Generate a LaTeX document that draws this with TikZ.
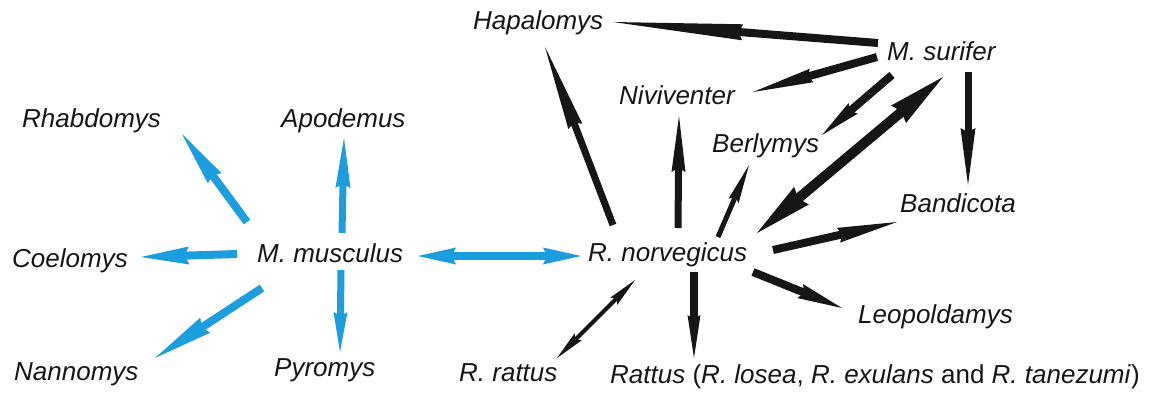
\documentclass[tikz,border=0pt]{standalone}
\usepackage{fontspec}
\setmainfont{Liberation Sans}
\usetikzlibrary{arrows.meta}
\definecolor{mblue}{RGB}{27,157,222}
\definecolor{ink}{RGB}{22,22,22}
\tikzset{
  lbl/.style={anchor=base west, inner sep=0pt, font=\fontsize{26}{30}\selectfont\itshape, text=ink},
  lblup/.style={anchor=base west, inner sep=0pt, font=\fontsize{26}{30}\selectfont, text=ink},
  bluearr/.style={color=mblue},
  blackarr/.style={color=ink},
  aone/.style n args={3}{line width=#1, -{Stealth[length=#2, width=#3, inset=4pt, line width=0pt]}},
  atwo/.style n args={3}{line width=#1, {Stealth[length=#2, width=#3, inset=4pt, line width=0pt]}-{Stealth[length=#2, width=#3, inset=4pt, line width=0pt]}},
}
\begin{document}
\begin{tikzpicture}[x=1pt,y=-1pt]
\useasboundingbox (0,0) rectangle (1149,392);
% labels
\node[lbl] (rhab) at (22,127) {Rhabdomys};
\node[lbl] (apod) at (281,127) {Apodemus};
\node[lbl] (coel) at (12,267) {Coelomys};
\node[lbl] (mmus) at (257,262) {M. musculus};
\node[lbl] (nann) at (14,380) {Nannomys};
\node[lbl] (pyro) at (274,376) {Pyromys};
\node[lbl] (hapa) at (473,29) {Hapalomys};
\node[lbl] (msur) at (887,60) {M. surifer};
\node[lbl] (nivi) at (619,104) {Niviventer};
\node[lbl] (berl) at (712,152) {Berlymys};
\node[lbl] (rnor) at (588,261) {R. norvegicus};
\node[lbl] (band) at (900,212) {Bandicota};
\node[lbl] (leop) at (858,323) {Leopoldamys};
\node[lbl] (ratt) at (459,381) {R. rattus};
\node[lblup] (rats) at (610,383) {\textit{Rattus} (\textit{R. losea}, \textit{R. exulans} and \textit{R. tanezumi})};
% arrow end points
\coordinate (mm-rh) at (247,222); \coordinate (rh-in) at (182,134);
\coordinate (mm-ap) at (342,233); \coordinate (ap-in) at (344,138);
\coordinate (mm-co) at (237,254); \coordinate (co-in) at (141,257);
\coordinate (mm-na) at (262,288); \coordinate (na-in) at (155,358);
\coordinate (mm-py) at (341,270); \coordinate (py-in) at (340,352);
\coordinate (mm-rn) at (418,256); \coordinate (rn-mm) at (581,256);
\coordinate (rn-ha) at (613,225); \coordinate (ha-rn) at (545,47);
\coordinate (rn-ni) at (678,228); \coordinate (ni-rn) at (679,116);
\coordinate (rn-be) at (718,237); \coordinate (be-rn) at (749,165);
\coordinate (rn-ms) at (757,233); \coordinate (ms-rn) at (943,77);
\coordinate (rn-ba) at (773,250); \coordinate (ba-rn) at (897,222);
\coordinate (rn-le) at (753,272); \coordinate (le-rn) at (842,308);
\coordinate (rn-rr) at (635,280); \coordinate (rr-rn) at (557,358);
\coordinate (rn-rs) at (694,272); \coordinate (rs-rn) at (694,358);
\coordinate (ms-ha) at (878,43); \coordinate (ha-ms) at (613,22);
\coordinate (ms-ni) at (877,57); \coordinate (ni-ms) at (753,92);
\coordinate (ms-be) at (892,75); \coordinate (be-ms) at (822,135);
\coordinate (ms-ba) at (968,72); \coordinate (ba-ms) at (968,185);
% blue connectors
\draw[bluearr, aone={8pt}{55pt}{17pt}] (mm-rh) -- (rh-in);
\draw[bluearr, aone={7pt}{50pt}{15pt}] (mm-ap) -- (ap-in);
\draw[bluearr, aone={8pt}{48pt}{18pt}] (mm-co) -- (co-in);
\draw[bluearr, aone={8pt}{60pt}{18pt}] (mm-na) -- (na-in);
\draw[bluearr, aone={7pt}{40pt}{14pt}] (mm-py) -- (py-in);
\draw[bluearr, atwo={8pt}{38pt}{17pt}] (mm-rn) -- (rn-mm);
% black connectors
\draw[blackarr, aone={7pt}{85pt}{15pt}] (rn-ha) -- (ha-rn);
\draw[blackarr, aone={7pt}{56pt}{14pt}] (rn-ni) -- (ni-rn);
\draw[blackarr, aone={5pt}{39pt}{11pt}] (rn-be) -- (be-rn);
\draw[blackarr, atwo={10pt}{58pt}{23pt}] (rn-ms) -- (ms-rn);
\draw[blackarr, aone={8pt}{60pt}{15pt}] (rn-ba) -- (ba-rn);
\draw[blackarr, aone={8pt}{45pt}{15pt}] (rn-le) -- (le-rn);
\draw[blackarr, atwo={4pt}{30pt}{10pt}] (rn-rr) -- (rr-rn);
\draw[blackarr, aone={7.5pt}{43pt}{13pt}] (rn-rs) -- (rs-rn);
\draw[blackarr, aone={8pt}{130pt}{16pt}] (ms-ha) -- (ha-ms);
\draw[blackarr, aone={8pt}{61pt}{14pt}] (ms-ni) -- (ni-ms);
\draw[blackarr, aone={8pt}{41pt}{14pt}] (ms-be) -- (be-ms);
\draw[blackarr, aone={7pt}{57pt}{15pt}] (ms-ba) -- (ba-ms);
\end{tikzpicture}
\end{document}
